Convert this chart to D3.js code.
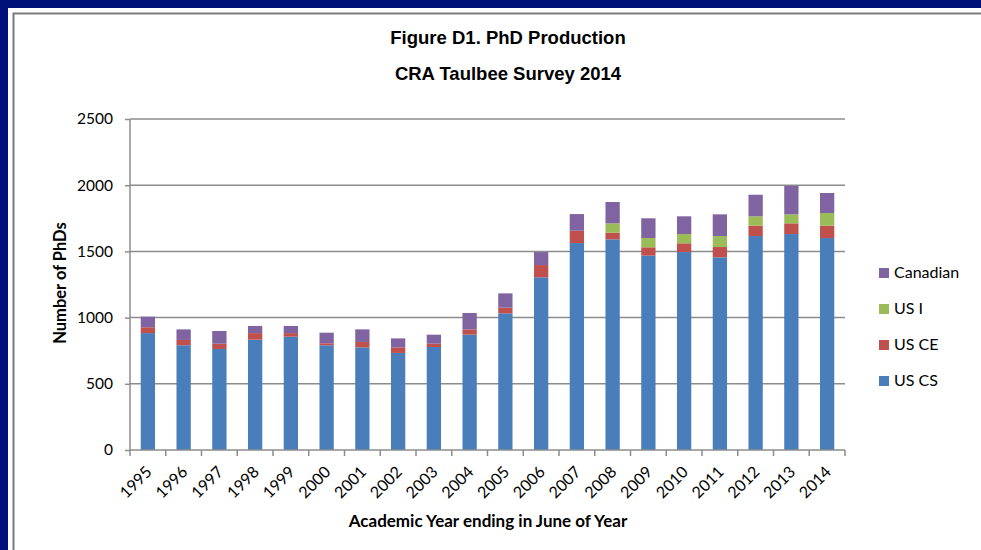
<!DOCTYPE html>
<meta charset="utf-8">
<style>
body { margin: 0; background: #00127a; }
text { font-family: Lato, "Open Sans", sans-serif; fill: #000; }
.grid line { stroke: #8c8c8c; stroke-width: 1.5px; }
.axis line, .axis path { stroke: #8c8c8c; stroke-width: 1.5px; }
</style>
<body>
<svg width="981" height="550"></svg>
<script src="https://d3js.org/d3.v7.min.js"></script>
<script>

// values
var years = ["1995","1996","1997","1998","1999","2000","2001","2002","2003","2004",
             "2005","2006","2007","2008","2009","2010","2011","2012","2013","2014"];
var usCS     = [883, 791, 763, 833, 856, 791, 775, 733, 778, 871, 1032, 1304, 1563, 1591, 1468, 1495, 1455, 1616, 1631, 1601];
var usCE     = [ 44,  40,  40,  50,  27,  15,  41,  42,  25,  40,   43,   93,   93,   50,   63,   66,   78,   78,   81,   93];
var usI      = [  0,   0,   0,   0,   0,   0,   0,   0,   0,   0,    0,    0,    0,   71,   70,   70,   83,   71,   68,   96];
var canadian = [ 80,  80,  96,  54,  54,  80,  95,  68,  68, 124,  108,   98,  126,  161,  149,  134,  164,  163,  216,  151];
var yTicks = [0, 500, 1000, 1500, 2000, 2500];

var keys = ["US CS", "US CE", "US I", "Canadian"];
var colors = {"US CS": "#4a7ebb", "US CE": "#c0504d", "US I": "#9bbb59", "Canadian": "#8064a2"};

var rows = years.map(function(y, i) {
  return {year: y, "US CS": usCS[i], "US CE": usCE[i], "US I": usI[i], "Canadian": canadian[i]};
});

var svg = d3.select("svg");

// white panel with grey frame
svg.append("rect").attr("x", 8).attr("y", 8).attr("width", 981).attr("height", 550).attr("fill", "#fff");
svg.append("path").attr("d", "M13.5,550 V13.5 H981").attr("fill", "none")
  .attr("stroke", "#7a7a7a").attr("stroke-width", 2);

var x = d3.scaleBand().domain(years).range([130, 845]).paddingInner(0.6).paddingOuter(0.3);
var y = d3.scaleLinear().domain([0, 2500]).range([450, 119]);

// gridlines
svg.append("g").attr("class", "grid")
  .selectAll("line").data(yTicks.slice(1)).enter().append("line")
    .attr("x1", 130).attr("x2", 845)
    .attr("y1", function(d) { return y(d); }).attr("y2", function(d) { return y(d); });

// bars
var stack = d3.stack().keys(keys)(rows);
svg.append("g").selectAll("g").data(stack).enter().append("g")
    .attr("fill", function(d) { return colors[d.key]; })
  .selectAll("rect").data(function(d) { return d; }).enter().append("rect")
    .attr("x", function(d) { return x(d.data.year); })
    .attr("width", x.bandwidth())
    .attr("y", function(d) { return y(d[1]); })
    .attr("height", function(d) { return y(d[0]) - y(d[1]); });

// y axis
var yAxis = svg.append("g").attr("class", "axis")
  .attr("transform", "translate(130,0)")
  .call(d3.axisLeft(y).tickValues(yTicks).tickFormat(d3.format("d")).tickSize(5).tickPadding(12));
yAxis.select(".domain").attr("d", "M0,119V450");
yAxis.selectAll("text").style("font-size", "15.5px");

// x axis: baseline, ticks on category boundaries
var half = (x.step() - x.bandwidth()) / 2;
var bounds = years.map(function(d) { return x(d) - half; }).concat([845]);
svg.append("line").attr("x1", 130).attr("x2", 845).attr("y1", 450).attr("y2", 450)
  .attr("stroke", "#8c8c8c").attr("stroke-width", 1.5);
svg.append("g").selectAll("line").data(bounds).enter().append("line")
    .attr("x1", function(d) { return d; }).attr("x2", function(d) { return d; })
    .attr("y1", 450).attr("y2", 456)
    .attr("stroke", "#8c8c8c").attr("stroke-width", 1.5);

svg.append("g").selectAll("text").data(years).enter().append("text")
    .attr("transform", function(d) {
      return "translate(" + (x(d) + x.bandwidth() / 2 + 5) + ",473) rotate(-45)";
    })
    .attr("text-anchor", "end")
    .style("font-size", "16px")
    .text(function(d) { return d; });

// titles
svg.append("text").attr("x", 508).attr("y", 44).attr("text-anchor", "middle")
  .style("font-family", "'Liberation Sans', Arial, sans-serif")
  .style("font-size", "18.5px").style("font-weight", "bold").text("Figure D1. PhD Production");
svg.append("text").attr("x", 508).attr("y", 80).attr("text-anchor", "middle")
  .style("font-family", "'Liberation Sans', Arial, sans-serif")
  .style("font-size", "18.5px").style("font-weight", "bold").text("CRA Taulbee Survey 2014");

svg.append("text").attr("transform", "translate(66,283) rotate(-90)")
  .attr("text-anchor", "middle").style("font-size", "16.5px").style("font-weight", "bold")
  .text("Number of PhDs");
svg.append("text").attr("x", 488).attr("y", 527).attr("text-anchor", "middle")
  .style("font-size", "17px").style("font-weight", "bold")
  .text("Academic Year ending in June of Year");

// legend
var legend = svg.append("g").selectAll("g").data(keys.slice().reverse()).enter().append("g")
  .attr("transform", function(d, i) { return "translate(879," + (268 + i * 36) + ")"; });
legend.append("rect").attr("width", 10).attr("height", 10)
  .attr("fill", function(d) { return colors[d]; });
legend.append("text").attr("x", 15).attr("y", 10).style("font-size", "16px")
  .text(function(d) { return d; });

</script>
</body>
